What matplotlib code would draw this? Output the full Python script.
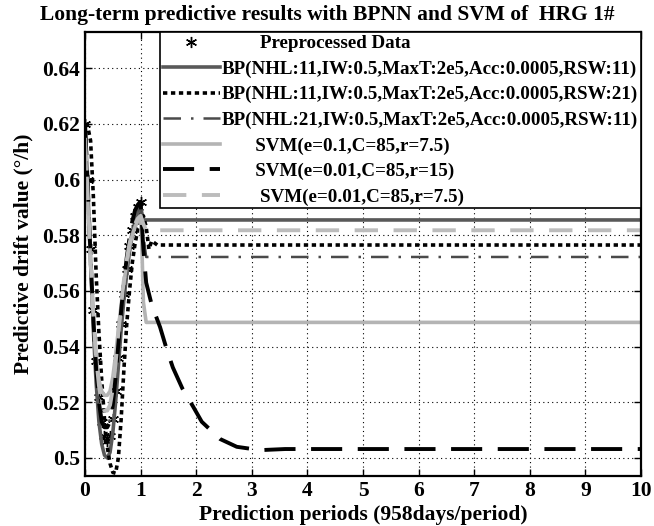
import matplotlib
matplotlib.use("Agg")
import matplotlib.pyplot as plt

plt.rcParams['font.family'] = ['Liberation Serif', 'DejaVu Serif']
plt.rcParams['font.weight'] = 'bold'

# fitted part (first period), common x grid
x_fit = [0.0, 0.05, 0.1, 0.15, 0.2, 0.25, 0.3, 0.35, 0.4, 0.45, 0.5,
         0.55, 0.6, 0.65, 0.7, 0.75, 0.8, 0.85, 0.9, 0.95, 1.0]

data_y = [0.620, 0.600, 0.575, 0.553, 0.535, 0.522, 0.513, 0.508, 0.506, 0.508, 0.514,
          0.524, 0.536, 0.548, 0.559, 0.568, 0.576, 0.582, 0.587, 0.590, 0.592]

bp1_y = [0.620, 0.597, 0.570, 0.546, 0.527, 0.513, 0.505, 0.501, 0.500, 0.502, 0.509,
         0.520, 0.533, 0.546, 0.557, 0.566, 0.574, 0.580, 0.585, 0.588, 0.590]
bp1_tx = [1.05, 10]
bp1_ty = [0.5855, 0.5855]

bp2_y = [0.620, 0.619, 0.614, 0.594, 0.566, 0.545, 0.528, 0.514, 0.504, 0.498, 0.4948,
         0.4945, 0.500, 0.514, 0.532, 0.548, 0.560, 0.570, 0.577, 0.582, 0.586]
bp2_tx = [1.05, 1.1, 1.15, 1.2, 1.3, 10]
bp2_ty = [0.587, 0.583, 0.575, 0.578, 0.5765, 0.5765]

bp3_y = [0.618, 0.596, 0.571, 0.550, 0.533, 0.521, 0.514, 0.511, 0.511, 0.514, 0.520,
         0.530, 0.541, 0.552, 0.562, 0.570, 0.577, 0.582, 0.586, 0.589, 0.590]
bp3_tx = [1.05, 1.1, 10]
bp3_ty = [0.580, 0.5722, 0.5722]

svm1_y = [0.612, 0.592, 0.570, 0.551, 0.537, 0.528, 0.524, 0.5225, 0.5225, 0.524, 0.529,
          0.537, 0.546, 0.555, 0.563, 0.570, 0.576, 0.580, 0.583, 0.585, 0.586]
svm1_tx = [1.02, 1.05, 1.1, 10]
svm1_ty = [0.578, 0.556, 0.5487, 0.5487]

svm2_y = [0.620, 0.598, 0.572, 0.550, 0.532, 0.520, 0.513, 0.511, 0.511, 0.513, 0.519,
          0.529, 0.541, 0.553, 0.563, 0.572, 0.579, 0.585, 0.589, 0.591, 0.592]
svm2_tx = [1.05, 1.1, 1.2, 1.35, 1.47, 1.58, 1.75, 1.94, 2.1, 2.43, 2.73, 3.15, 3.6, 10]
svm2_ty = [0.575, 0.563, 0.555, 0.547, 0.539, 0.5325, 0.525, 0.5186, 0.513, 0.5068,
           0.504, 0.5028, 0.5032, 0.5032]

svm3_y = [0.615, 0.594, 0.571, 0.551, 0.536, 0.526, 0.520, 0.517, 0.517, 0.519, 0.525,
          0.534, 0.545, 0.555, 0.564, 0.571, 0.577, 0.581, 0.584, 0.586, 0.587]
svm3_tx = [1.05, 1.1, 10]
svm3_ty = [0.584, 0.5818, 0.5818]

labels = ['        Preprocessed Data',
          'BP(NHL:11,IW:0.5,MaxT:2e5,Acc:0.0005,RSW:11)',
          'BP(NHL:11,IW:0.5,MaxT:2e5,Acc:0.0005,RSW:21)',
          'BP(NHL:21,IW:0.5,MaxT:2e5,Acc:0.0005,RSW:11)',
          '       SVM(e=0.1,C=85,r=7.5)',
          '       SVM(e=0.01,C=85,r=15)',
          '        SVM(e=0.01,C=85,r=7.5)']

xticks = [0, 1, 2, 3, 4, 5, 6, 7, 8, 9, 10]
yticks = [0.5, 0.52, 0.54, 0.56, 0.58, 0.6, 0.62, 0.64]
ytick_labels = ['0.5', '0.52', '0.54', '0.56', '0.58', '0.6', '0.62', '0.64']

fig = plt.figure(figsize=(6.54, 5.26), dpi=100)
ax = fig.add_axes([0.130, 0.095, 0.850, 0.844])

# asterisk marker like MATLAB's '*'
h0, = ax.plot(x_fit, data_y, linestyle='none', marker=(6, 2, 0), color='k',
              markersize=8, markeredgewidth=1.0)
h1, = ax.plot(x_fit + bp1_tx, bp1_y + bp1_ty, color='#595959', lw=2.6)
h2, = ax.plot(x_fit + bp2_tx, bp2_y + bp2_ty, color='k', lw=2.6, linestyle=(0, (1.2, 1.0)))
h3, = ax.plot(x_fit + bp3_tx, bp3_y + bp3_ty, color='#4a4a4a', lw=1.8,
              linestyle=(0, (7, 4, 1, 4)))
h4, = ax.plot(x_fit + svm1_tx, svm1_y + svm1_ty, color='#b4b4b4', lw=2.6)
h5, = ax.plot(x_fit + svm2_tx, svm2_y + svm2_ty, color='k', lw=2.8, linestyle=(0, (8, 4)))
h6, = ax.plot(x_fit + svm3_tx, svm3_y + svm3_ty, color='#bcbcbc', lw=2.8, linestyle=(0, (6, 4)))

ax.set_xlim(0, 10)
ax.set_ylim(0.4935, 0.653)
ax.set_xticks(xticks)
ax.set_yticks(yticks)
ax.set_yticklabels(ytick_labels)
ax.tick_params(direction='in', top=True, right=True, labelsize=15.5, length=5, width=1)
for lab in ax.get_xticklabels() + ax.get_yticklabels():
    lab.set_fontweight('bold')
ax.grid(True, linestyle=(0, (1, 3)), color='k', linewidth=0.8)
for sp in ax.spines.values():
    sp.set_linewidth(1.6)

ax.set_xlabel('Prediction periods (958days/period)', fontsize=15.5, fontweight='bold', labelpad=3)
ax.set_ylabel('Predictive drift value (°/h)', fontsize=15.5, fontweight='bold', labelpad=6)
fig.text(0.5, 0.972, 'Long-term predictive results with BPNN and SVM of  HRG 1#',
         fontsize=15.5, fontweight='bold', ha='center', va='center')

leg = ax.legend([h0, h1, h2, h3, h4, h5, h6], labels, loc='upper right',
                prop={'weight': 'bold', 'size': 13.7}, frameon=True, fancybox=False,
                framealpha=1, edgecolor='k', borderaxespad=0, handlelength=3.0,
                handletextpad=0.1, labelspacing=0.43, borderpad=0.15)
leg.get_frame().set_linewidth(1.2)

fig.savefig('out.png', dpi=100)
